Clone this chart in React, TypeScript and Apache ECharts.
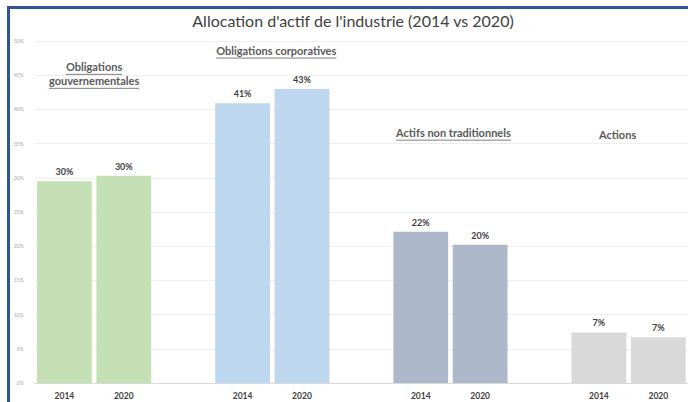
import React, { useEffect, useRef } from "react";
import * as echarts from "echarts";

const groups = ["Obligations\ngouvernementales", "Obligations corporatives", "Actifs non traditionnels", "Actions"];
const years = ["2014", "2020"];
const values2014 = [29.5, 40.9, 22.1, 7.4];
const values2020 = [30.3, 43.0, 20.2, 6.7];
const groupColors = ["#C5E0B4", "#BDD7EE", "#ADB9CA", "#D9D9D9"];
const yTicks = [0, 5, 10, 15, 20, 25, 30, 35, 40, 45, 50];
const titleText = "Allocation d'actif de l'industrie (2014 vs 2020)";

// annotation anchors (value level of group headers, small x nudges)
const headerLevels = [45.2, 48.6, 36.6, 36.4];
const headerNudge = [0, 4, 3, -11];
const headerUnderline = [true, true, true, false];

const FONT = "Lato, 'Noto Sans', sans-serif";

export default function App() {
  const ref = useRef<HTMLDivElement>(null);
  useEffect(() => {
    if (!ref.current) return;
    const chart = echarts.init(ref.current, null, { renderer: "svg" });

    const categories: string[] = [];
    const data: any[] = [];
    groups.forEach((g, gi) => {
      const vals = [values2014[gi], values2020[gi]];
      years.forEach((y, yi) => {
        categories.push(y);
        data.push({ value: vals[yi], itemStyle: { color: groupColors[gi] } });
      });
      if (gi < groups.length - 1) {
        categories.push("");
        data.push(null);
      }
    });

    chart.setOption({
      animation: false,
      textStyle: { fontFamily: FONT },
      grid: { left: 34.7, top: 41, width: 655.6, height: 342 },
      xAxis: {
        type: "category",
        data: categories,
        axisTick: { show: false },
        axisLine: { lineStyle: { color: "#D9D9D9" } },
        axisLabel: { fontSize: 8.5, fontWeight: "bold", color: "#404040", margin: 8, interval: 0, fontFamily: FONT },
      },
      yAxis: {
        type: "value",
        min: yTicks[0],
        max: yTicks[yTicks.length - 1],
        interval: 5,
        axisLabel: { formatter: "{value}%", fontSize: 5, color: "#A6A6A6", margin: 11, fontFamily: FONT },
        splitLine: { lineStyle: { color: "#EEEEEE" } },
        axisLine: { show: false },
        axisTick: { show: false },
      },
      series: [
        {
          type: "bar",
          data,
          barCategoryGap: "7.7%",
          label: {
            show: true,
            position: "top",
            distance: 5,
            fontSize: 9,
            fontWeight: "bold",
            color: "#404040",
            fontFamily: FONT,
            formatter: (p: any) => Math.round(p.value) + "%",
          },
        },
      ],
    });

    const ctx = document.createElement("canvas").getContext("2d")!;
    ctx.font = "bold 11px " + FONT;
    const graphics: any[] = [
      { type: "rect", shape: { x: 7, y: 6, width: 3, height: 400 }, style: { fill: "#2F5597" }, z: 100 },
      { type: "rect", shape: { x: 7, y: 6, width: 690, height: 3 }, style: { fill: "#2F5597" }, z: 100 },
      {
        type: "text",
        x: 353,
        y: 20,
        style: { text: titleText, fontSize: 16, fontFamily: FONT, fill: "#404040", align: "center", verticalAlign: "middle" },
      },
    ];
    groups.forEach((g, gi) => {
      const i0 = gi * 3;
      const p0 = chart.convertToPixel({ xAxisIndex: 0, yAxisIndex: 0 }, [i0, headerLevels[gi]]) as number[];
      const p1 = chart.convertToPixel({ xAxisIndex: 0, yAxisIndex: 0 }, [i0 + 1, headerLevels[gi]]) as number[];
      const cx = (p0[0] + p1[0]) / 2 + headerNudge[gi];
      const cy = p0[1];
      const lines = g.split("\n");
      const lh = 14;
      const startY = cy - ((lines.length - 1) * lh) / 2;
      lines.forEach((ln, li) => {
        const y = startY + li * lh;
        graphics.push({
          type: "text",
          x: cx,
          y,
          style: { text: ln, fontSize: 11, fontWeight: "bold", fontFamily: FONT, fill: "#595959", align: "center", verticalAlign: "middle" },
        });
        if (headerUnderline[gi]) {
          const w = ctx.measureText(ln).width;
          graphics.push({
            type: "line",
            shape: { x1: cx - w / 2, y1: y + 7.5, x2: cx + w / 2, y2: y + 7.5 },
            style: { stroke: "#7F7F7F", lineWidth: 1 },
          });
        }
      });
    });
    chart.setOption({ graphic: graphics });

    return () => chart.dispose();
  }, []);
  return <div ref={ref} style={{ position: "fixed", left: 0, top: 0, width: 688, height: 402, background: "#fff" }} />;
}
